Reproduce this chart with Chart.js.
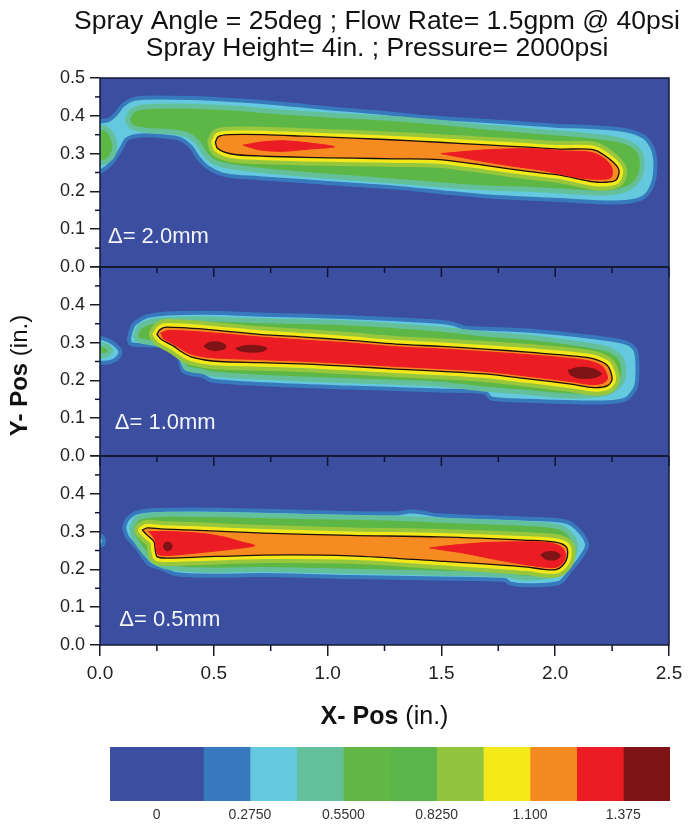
<!DOCTYPE html>
<html>
<head>
<meta charset="utf-8">
<script src="https://cdn.jsdelivr.net/npm/chart.js@4.4.1/dist/chart.umd.min.js"></script>
<style>
  html, body { margin: 0; padding: 0; background: #ffffff; }
  #wrap { position: relative; width: 690px; height: 827px; }
  #main { position: absolute; left: 0; top: 0; }
  #bar { position: absolute; left: 0; top: 740px; }
</style>
</head>
<body>
<div id="wrap">
  <canvas id="main" width="690" height="740"></canvas>
  <canvas id="bar" width="690" height="87"></canvas>
</div>
<script>
// ---- text ----
const titleLines = ['Spray Angle = 25deg ; Flow Rate= 1.5gpm @ 40psi', 'Spray Height= 4in. ; Pressure= 2000psi'];
const panelNotes = ['\u0394= 2.0mm', '\u0394= 1.0mm', '\u0394= 0.5mm'];
const xTickLabels = ['0.0', '0.5', '1.0', '1.5', '2.0', '2.5'];
const yTickLabelsTop = ['0.0', '0.1', '0.2', '0.3', '0.4', '0.5'];
const yTickLabelsLower = ['0.0', '0.1', '0.2', '0.3', '0.4', ''];

// ---- colour scale: level edges, box colours and labelled values ----
const levelEdges = [-0.1375, 0, 0.1375, 0.275, 0.4125, 0.55, 0.6875, 0.825, 0.9625, 1.1, 1.2375, 1.375, 1.5125];
const levelColors = ['#3b4ea0', '#3b4ea0', '#3879bd', '#64c9df', '#64c09b', '#62b847', '#5cb548',
                     '#93c43f', '#f4ea1a', '#f58a22', '#ec1c24', '#7d1313'];
const colorbarTicks = [0, 0.275, 0.55, 0.825, 1.1, 1.375];
const colorbarLabels = ['0', '0.2750', '0.5500', '0.8250', '1.100', '1.375'];

// ---- contour outlines, [x (in.), y (in.)] ----
// Panel 1: delta = 2.0 mm
const p1Outer = [[-0.05,0.385],[0,0.385],[0.04,0.39],[0.07,0.405],[0.1,0.428],[0.14,0.443],[0.2,0.448],[0.4,0.447],[0.6,0.441],[0.8,0.432],[1.0,0.42],[1.2,0.41],[1.4,0.398],[1.6,0.39],[1.8,0.382],[2.0,0.374],[2.17,0.37],[2.31,0.362],[2.39,0.344],[2.43,0.31],[2.44,0.27],[2.43,0.222],[2.39,0.185],[2.31,0.172],[2.17,0.172],[2.02,0.177],[1.85,0.182],[1.69,0.187],[1.5,0.198],[1.3,0.21],[1.1,0.218],[0.9,0.227],[0.7,0.235],[0.55,0.243],[0.47,0.265],[0.43,0.29],[0.4,0.317],[0.35,0.339],[0.27,0.346],[0.18,0.348],[0.12,0.339],[0.09,0.31],[0.05,0.275],[0,0.253],[-0.05,0.253]];
const p1GreenBlob = [[-0.05,0.372],[0,0.37],[0.03,0.365],[0.055,0.345],[0.065,0.32],[0.055,0.295],[0.03,0.28],[0,0.275],[-0.05,0.275]];
const p1Green = [[0.12,0.39],[0.14,0.413],[0.2,0.424],[0.4,0.425],[0.6,0.42],[0.8,0.41],[1.0,0.402],[1.3,0.392],[1.5,0.382],[1.7,0.37],[1.9,0.36],[2.07,0.352],[2.2,0.344],[2.29,0.335],[2.35,0.318],[2.38,0.29],[2.375,0.245],[2.34,0.215],[2.28,0.2],[2.2,0.195],[2.05,0.2],[1.9,0.205],[1.7,0.209],[1.5,0.217],[1.3,0.227],[1.1,0.236],[0.9,0.245],[0.7,0.256],[0.58,0.265],[0.5,0.278],[0.46,0.3],[0.43,0.328],[0.39,0.348],[0.32,0.357],[0.2,0.362],[0.14,0.37]];
const p1Core = [[0.507,0.33],[0.52,0.345],[0.565,0.35],[0.72,0.35],[0.9,0.346],[1.11,0.341],[1.3,0.336],[1.49,0.33],[1.7,0.323],[1.88,0.317],[2.02,0.312],[2.17,0.31],[2.24,0.285],[2.28,0.257],[2.27,0.232],[2.24,0.225],[2.17,0.225],[2.02,0.243],[1.88,0.253],[1.7,0.268],[1.49,0.284],[1.3,0.286],[1.11,0.288],[0.9,0.29],[0.72,0.293],[0.6,0.297],[0.55,0.303],[0.515,0.315]];
const p1Red1 = [[0.63,0.322],[0.7,0.33],[0.8,0.334],[0.92,0.328],[1.03,0.318],[0.92,0.312],[0.8,0.306],[0.7,0.31]];
const p1Red2 = [[1.5,0.3],[1.7,0.31],[1.9,0.313],[2.05,0.307],[2.16,0.303],[2.22,0.285],[2.25,0.26],[2.245,0.237],[2.2,0.232],[2.1,0.236],[1.95,0.255],[1.8,0.268],[1.65,0.283]];

// Panel 2: delta = 1.0 mm
const p2Blob = [[-0.05,0.313],[0,0.313],[0.04,0.305],[0.075,0.29],[0.09,0.275],[0.075,0.258],[0.04,0.248],[0,0.247],[-0.05,0.247]];
const p2BlobGreen = [[-0.05,0.296],[0,0.296],[0.03,0.29],[0.047,0.28],[0.03,0.268],[0,0.265],[-0.05,0.265]];
const p2Outer = [[0.127,0.309],[0.135,0.33],[0.148,0.348],[0.18,0.362],[0.208,0.37],[0.296,0.377],[0.47,0.379],[0.72,0.374],[1.1,0.367],[1.49,0.355],[1.55,0.35],[1.6,0.34],[1.88,0.332],[2.17,0.314],[2.31,0.3],[2.35,0.283],[2.36,0.257],[2.36,0.2],[2.35,0.177],[2.31,0.15],[2.23,0.142],[2.05,0.143],[1.88,0.146],[1.72,0.152],[1.69,0.168],[1.49,0.173],[1.1,0.181],[0.72,0.19],[0.49,0.2],[0.45,0.212],[0.4,0.217],[0.365,0.225],[0.35,0.256],[0.325,0.282],[0.267,0.291],[0.135,0.296]];
const p2Green = [[0.157,0.318],[0.165,0.333],[0.18,0.344],[0.237,0.357],[0.41,0.363],[0.72,0.358],[1.1,0.352],[1.49,0.336],[1.69,0.323],[1.88,0.314],[2.07,0.3],[2.23,0.283],[2.29,0.257],[2.3,0.212],[2.27,0.181],[2.21,0.164],[2.07,0.159],[1.88,0.168],[1.69,0.177],[1.49,0.19],[1.1,0.199],[0.72,0.208],[0.49,0.217],[0.45,0.224],[0.38,0.232],[0.36,0.256],[0.34,0.278],[0.28,0.293],[0.2,0.302],[0.165,0.307]];
const p2Core = [[0.25,0.322],[0.265,0.335],[0.294,0.341],[0.47,0.335],[0.7,0.322],[0.913,0.314],[1.1,0.306],[1.3,0.296],[1.5,0.29],[1.69,0.283],[1.88,0.275],[2.074,0.265],[2.17,0.257],[2.23,0.239],[2.25,0.204],[2.23,0.186],[2.17,0.181],[2.07,0.19],[1.88,0.204],[1.69,0.217],[1.5,0.224],[1.3,0.23],[1.1,0.237],[0.913,0.243],[0.7,0.247],[0.526,0.25],[0.46,0.254],[0.4,0.262],[0.36,0.275],[0.32,0.292],[0.27,0.308]];
const p2Red = [[0.268,0.325],[0.3,0.332],[0.47,0.327],[0.7,0.315],[0.913,0.306],[1.1,0.299],[1.3,0.289],[1.5,0.283],[1.69,0.276],[1.88,0.268],[2.07,0.258],[2.16,0.25],[2.21,0.235],[2.23,0.206],[2.21,0.193],[2.16,0.189],[2.07,0.197],[1.88,0.211],[1.69,0.224],[1.5,0.231],[1.3,0.237],[1.1,0.244],[0.913,0.25],[0.7,0.255],[0.55,0.258],[0.46,0.262],[0.4,0.27],[0.36,0.282],[0.32,0.297],[0.28,0.31]];
const p2DarkA = [[0.46,0.291],[0.48,0.299],[0.51,0.301],[0.545,0.295],[0.55,0.287],[0.52,0.281],[0.48,0.283]];
const p2DarkB = [[0.6,0.284],[0.63,0.29],[0.68,0.291],[0.73,0.285],[0.71,0.278],[0.66,0.276],[0.62,0.279]];
const p2DarkC = [[2.06,0.226],[2.1,0.233],[2.16,0.23],[2.2,0.218],[2.17,0.208],[2.11,0.207],[2.07,0.215]];

// Panel 3: delta = 0.5 mm
const p3Blob = [[-0.05,0.29],[0,0.29],[0.012,0.285],[0.018,0.275],[0.012,0.265],[0,0.262],[-0.05,0.262]];
const p3Outer = [[0.105,0.31],[0.12,0.333],[0.164,0.351],[0.267,0.357],[0.5,0.358],[0.913,0.352],[1.3,0.348],[1.36,0.353],[1.41,0.351],[1.49,0.343],[1.88,0.334],[2.05,0.326],[2.11,0.299],[2.14,0.264],[2.11,0.229],[2.07,0.2],[2.02,0.165],[1.88,0.158],[1.8,0.163],[1.78,0.172],[1.49,0.176],[1.1,0.18],[0.72,0.185],[0.49,0.183],[0.33,0.188],[0.27,0.203],[0.222,0.212],[0.193,0.23],[0.164,0.256],[0.12,0.285]];
const p3Green = [[0.14,0.31],[0.16,0.333],[0.2,0.342],[0.3,0.346],[0.5,0.345],[0.9,0.34],[1.3,0.335],[1.5,0.33],[1.88,0.321],[2.02,0.312],[2.07,0.29],[2.09,0.26],[2.07,0.225],[2.03,0.195],[1.95,0.18],[1.85,0.178],[1.78,0.186],[1.5,0.19],[1.1,0.195],[0.72,0.2],[0.5,0.198],[0.34,0.202],[0.26,0.213],[0.21,0.235],[0.17,0.265],[0.145,0.29]];
const p3Core = [[0.186,0.304],[0.208,0.31],[0.267,0.307],[0.41,0.304],[0.72,0.296],[1.1,0.29],[1.49,0.286],[1.88,0.277],[2.0,0.272],[2.045,0.262],[2.055,0.246],[2.045,0.22],[2.007,0.2],[1.95,0.2],[1.88,0.206],[1.49,0.222],[1.1,0.236],[0.72,0.238],[0.41,0.232],[0.3,0.23],[0.252,0.233],[0.243,0.25],[0.237,0.274],[0.208,0.29]];
const p3RedL = [[0.215,0.3],[0.3,0.3],[0.45,0.295],[0.55,0.285],[0.62,0.273],[0.68,0.263],[0.6,0.255],[0.45,0.245],[0.3,0.237],[0.255,0.24],[0.245,0.262],[0.24,0.28]];
const p3RedR = [[1.45,0.257],[1.55,0.264],[1.7,0.271],[1.88,0.273],[1.98,0.27],[2.03,0.258],[2.045,0.24],[2.035,0.218],[2.0,0.205],[1.9,0.21],[1.75,0.225],[1.6,0.243],[1.5,0.252]];
const p3DarkA = [[0.28,0.262],[0.29,0.27],[0.305,0.27],[0.315,0.261],[0.305,0.252],[0.29,0.252]];
const p3DarkB = [[1.94,0.238],[1.96,0.245],[2.0,0.245],[2.02,0.236],[2.0,0.227],[1.96,0.228]];

const panels = [
  { axis: 'y1', outer: [p1Outer], green: [p1GreenBlob, p1Green], core: [p1Core], red: [p1Red1, p1Red2], dark: [] },
  { axis: 'y2', outer: [p2Blob, p2Outer], green: [p2BlobGreen, p2Green], core: [p2Core], red: [p2Red], dark: [p2DarkA, p2DarkB, p2DarkC] },
  { axis: 'y3', outer: [p3Blob, p3Outer], green: [p3Green], core: [p3Core], red: [p3RedL, p3RedR], dark: [p3DarkA, p3DarkB] }
];

// ---- styling ----
const FONT = '"Liberation Sans", Arial, Helvetica, sans-serif';
const C = {
  bg: '#3b4ea0', midBlue: '#3879bd', cyan: '#64c9df', teal: '#64c09b', green: '#5db747',
  ylGreen: '#98c73e', yellow: '#f3e91a', orange: '#f68b21', red: '#ec1c24', dark: '#7e1416',
  line: '#1c0f0f', axis: '#1a1a24'
};
// one entry per drawn layer, bottom to top
const layerStyles = [
  { key: 'outer', fill: C.cyan, border: C.midBlue, width: 4 },
  { key: 'green', fill: C.green, border: C.teal, width: 5 },
  { key: 'core', fill: C.ylGreen, border: C.ylGreen, width: 16 },
  { key: 'core', fill: C.yellow, border: C.yellow, width: 8 },
  { key: 'core', fill: C.orange, border: C.line, width: 1.3 },
  { key: 'red', fill: C.red, border: C.red, width: 1 },
  { key: 'dark', fill: C.dark, border: C.dark, width: 2 }
];

const layered = [];
panels.forEach(p => {
  layerStyles.forEach(st => {
    p[st.key].forEach(poly => {
      const pts = poly.map(([x, y]) => ({ x, y }));
      pts.push({ x: poly[0][0], y: poly[0][1] });
      layered.push({
        data: pts, yAxisID: p.axis, xAxisID: 'x', showLine: true, fill: 'shape',
        backgroundColor: st.fill, borderColor: st.border, borderWidth: st.width,
        borderJoinStyle: 'round', borderCapStyle: 'round', tension: 0.3,
        pointRadius: 0, pointHoverRadius: 0, clip: 0
      });
    });
  });
});
const N = layered.length;
layered.forEach((d, i) => { d.order = N - i; });

// ---- frame, minor ticks, notes and titles ----
const decorations = {
  id: 'decorations',
  beforeDraw(chart, args, o) {
    const { ctx, chartArea: a } = chart;
    ctx.save();
    ctx.fillStyle = o.background;
    ctx.fillRect(a.left, a.top, a.right - a.left, a.bottom - a.top);
    ctx.restore();
  },
  afterDatasetsDraw(chart, args, o) {
    const { ctx, chartArea: a, scales } = chart;
    const xs = scales.x;
    const seg = (x1, y1, x2, y2) => { ctx.beginPath(); ctx.moveTo(x1, y1); ctx.lineTo(x2, y2); ctx.stroke(); };
    const xMajor = xs.ticks.map(t => t.value);
    const xMinor = xMajor.slice(1).map((v, i) => (v + xMajor[i]) / 2);
    ctx.save();
    ctx.strokeStyle = o.tickColor;
    ctx.lineWidth = 1.5;
    // ticks along the inner panel boundaries
    ['y1', 'y2'].forEach(id => {
      const yb = scales[id].getPixelForValue(0);
      xMajor.forEach(v => { const px = xs.getPixelForValue(v); seg(px, yb, px, yb + 10); });
      xMinor.forEach(v => { const px = xs.getPixelForValue(v); seg(px, yb, px, yb + 6); });
    });
    // minor ticks under the bottom axis
    const yBottom = scales.y3.getPixelForValue(0);
    xMinor.forEach(v => { const px = xs.getPixelForValue(v); seg(px, yBottom, px, yBottom + 6); });
    // minor ticks on each y axis
    ['y1', 'y2', 'y3'].forEach(id => {
      const s = scales[id];
      const mj = s.ticks.map(t => t.value);
      mj.slice(1).forEach((v, i) => { const py = s.getPixelForValue((v + mj[i]) / 2); seg(a.left - 5, py, a.left, py); });
    });
    // panel separators and frame
    ctx.strokeStyle = o.frameColor;
    ctx.lineWidth = 2;
    ['y1', 'y2'].forEach(id => { const y = scales[id].getPixelForValue(0); seg(a.left, y, a.right, y); });
    ctx.lineWidth = 1.5;
    ctx.strokeRect(a.left, a.top, a.right - a.left, a.bottom - a.top);
    // panel notes
    ctx.fillStyle = o.noteColor;
    ctx.font = o.noteFont;
    ctx.textBaseline = 'middle';
    ctx.textAlign = 'left';
    ['y1', 'y2', 'y3'].forEach((id, i) => {
      ctx.fillText(panelNotes[i], xs.getPixelForValue(o.noteX[i]), scales[id].getPixelForValue(o.noteY[i]));
    });
    ctx.restore();
  },
  afterDraw(chart, args, o) {
    const { ctx, chartArea: a } = chart;
    ctx.save();
    ctx.fillStyle = '#111111';
    ctx.textAlign = 'center';
    ctx.textBaseline = 'alphabetic';
    ctx.font = o.titleFont;
    titleLines.forEach((t, i) => ctx.fillText(t, o.titleX, o.titleY[i]));
    // axis titles: bold name, regular unit
    const drawMixed = (bold, plain, cx, cy, rot, size) => {
      ctx.save();
      ctx.translate(cx, cy);
      ctx.rotate(rot);
      ctx.textAlign = 'left';
      ctx.textBaseline = 'middle';
      ctx.font = 'bold ' + size + 'px ' + FONT;
      const wb = ctx.measureText(bold).width;
      ctx.font = size + 'px ' + FONT;
      const wp = ctx.measureText(plain).width;
      const x0 = -(wb + wp) / 2;
      ctx.font = 'bold ' + size + 'px ' + FONT;
      ctx.fillText(bold, x0, 0);
      ctx.font = size + 'px ' + FONT;
      ctx.fillText(plain, x0 + wb, 0);
      ctx.restore();
    };
    drawMixed('X- Pos', ' (in.)', (a.left + a.right) / 2, o.xTitleY, 0, 25);
    drawMixed('Y- Pos', ' (in.)', o.yTitleX, chart.scales.y2.getPixelForValue(0.25) + 14, -Math.PI / 2, 24);
    ctx.restore();
  }
};

const yAxis = (labels, weight) => ({
  type: 'linear', min: 0, max: 0.5, position: 'left', stack: 'panels', stackWeight: 1, weight,
  ticks: { stepSize: 0.1, color: '#222222', padding: 5, autoSkip: false, font: { family: FONT, size: 18 },
           callback: (v, i) => labels[i] },
  grid: { display: true, drawOnChartArea: false, drawTicks: true, tickLength: 10, color: C.axis, lineWidth: 1.5 },
  border: { display: false },
  afterFit: s => { s.width = 100; }
});

new Chart(document.getElementById('main'), {
  type: 'scatter',
  data: { datasets: layered },
  options: {
    responsive: false, animation: false, events: [],
    layout: { padding: { top: 78, right: 21, bottom: 45, left: 0 } },
    plugins: {
      legend: { display: false }, tooltip: { enabled: false }, title: { display: false },
      decorations: {
        background: C.bg, tickColor: '#0e1430', frameColor: '#141a36',
        noteColor: '#f2f5fb', noteFont: '22px ' + FONT,
        noteX: [0.035, 0.065, 0.085], noteY: [0.08, 0.088, 0.066],
        titleFont: '26.5px ' + FONT, titleX: 377, titleY: [29, 56],
        xTitleY: 717, yTitleX: 20
      }
    },
    scales: {
      x: {
        type: 'linear', min: 0, max: 2.5, position: 'bottom',
        ticks: { stepSize: 0.5, color: '#222222', padding: 6, maxRotation: 0, autoSkip: false,
                 font: { family: FONT, size: 19 }, callback: (v, i) => xTickLabels[i] },
        grid: { display: true, drawOnChartArea: false, drawTicks: true, tickLength: 11, color: C.axis, lineWidth: 1.5 },
        border: { display: false },
        afterFit: s => { s.height = 50; }
      },
      y1: yAxis(yTickLabelsTop, 3),
      y2: yAxis(yTickLabelsLower, 2),
      y3: yAxis(yTickLabelsLower, 1)
    }
  },
  plugins: [decorations]
});

// ---- colour bar ----
new Chart(document.getElementById('bar'), {
  type: 'bar',
  data: {
    labels: [''],
    datasets: levelColors.map((c, i) => ({
      data: [[levelEdges[i], levelEdges[i + 1]]], backgroundColor: c, borderWidth: 0,
      barPercentage: 1, categoryPercentage: 1, grouped: false
    }))
  },
  options: {
    indexAxis: 'y', responsive: false, animation: false, events: [],
    layout: { padding: { left: 110, right: 20, top: 7, bottom: 0 } },
    plugins: { legend: { display: false }, tooltip: { enabled: false } },
    scales: {
      x: {
        type: 'linear', min: levelEdges[0], max: levelEdges[levelEdges.length - 1],
        afterBuildTicks: s => { s.ticks = colorbarTicks.map(v => ({ value: v })); },
        ticks: { color: '#333333', padding: -2, maxRotation: 0, autoSkip: false,
                 font: { family: FONT, size: 14 }, callback: (v, i) => colorbarLabels[i] },
        grid: { display: false }, border: { display: false },
        afterFit: s => { s.height = 26; }
      },
      y: { display: false }
    }
  }
});
</script>
</body>
</html>
